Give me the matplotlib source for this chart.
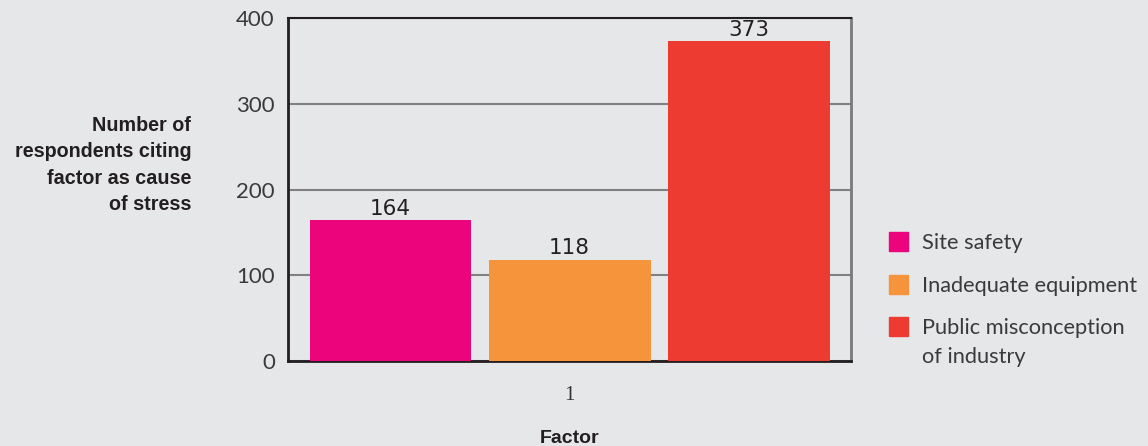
import matplotlib
matplotlib.use("Agg")
import matplotlib.pyplot as plt
from matplotlib.patches import Rectangle
import numpy as np

# --- dati ---
factors = ["Site safety", "Inadequate equipment", "Public misconception\nof industry"]
counts = [164, 118, 373]
colors = ["#EC047D", "#F5943A", "#EE3B32"]
group = 1
yticks = [0, 100, 200, 300, 400]

bg = "#E6E7E9"
dark = "#231F20"
grey_txt = "#3A3A3A"

fig = plt.figure(figsize=(11.48, 4.46), dpi=100, facecolor=bg)
ax = fig.add_axes([0.2509, 0.1906, 0.4904, 0.769], facecolor=bg)

width = 0.2877
offsets = np.array([-0.318, 0.0, 0.318])
for off, val, col in zip(offsets, counts, colors):
    ax.bar(group + off, val, width=width, color=col, zorder=3)
    ax.annotate(f"{val}", (group + off, val), xytext=(0, 1), textcoords="offset points",
                ha="center", va="bottom", fontsize=15.5, color=dark,
                family="DejaVu Sans")

ax.set_xlim(0.5, 1.5)
ax.set_ylim(0, 400)
ax.set_yticks(yticks)
ax.set_xticks([group])
ax.set_xticklabels(["1"], family="Liberation Serif", fontsize=15, color="#333333")
ax.tick_params(axis="both", length=0)
ax.tick_params(axis="y", pad=9.5, labelsize=16, labelcolor=grey_txt)
ax.tick_params(axis="x", pad=18)
for lab in ax.get_yticklabels():
    lab.set_family("Lato")

ax.yaxis.grid(True, color="#808080", lw=1.5, zorder=1)
ax.set_axisbelow(True)

ax.spines["left"].set_color(dark)
ax.spines["left"].set_linewidth(2)
ax.spines["bottom"].set_color(dark)
ax.spines["bottom"].set_linewidth(2)
ax.spines["top"].set_color(dark)
ax.spines["top"].set_linewidth(1.5)
ax.spines["right"].set_color("#7A7A7A")
ax.spines["right"].set_linewidth(2)

ax.set_xlabel("Factor", fontsize=14, fontweight="bold", family="Liberation Sans",
              color=dark, labelpad=18)

fig.text(0.1665, 0.63, "Number of\nrespondents citing\nfactor as cause\nof stress",
         ha="right", va="center", ma="right", fontsize=14.2, fontweight="bold",
         family="Liberation Sans", color=dark, linespacing=1.5)

# legenda disegnata a mano
W, H = 1148, 446
sq = 19
tops = [232, 275, 317]
for top, lab, col in zip(tops, factors, colors):
    fig.add_artist(Rectangle((889 / W, 1 - (top + sq) / H), sq / W, sq / H,
                             transform=fig.transFigure, color=col))
    fig.text(922 / W, 1 - (top + 1) / H, lab, ha="left", va="top",
             fontsize=15.7, family="Lato", color=grey_txt, linespacing=1.55)

fig.savefig("out.png", dpi=100, facecolor=bg)
